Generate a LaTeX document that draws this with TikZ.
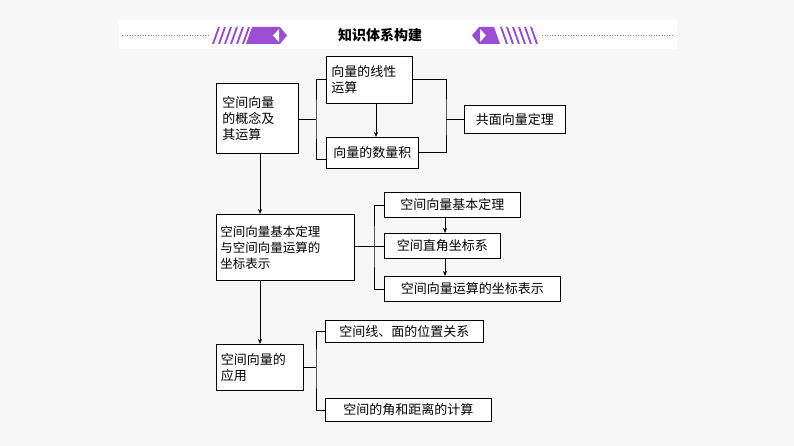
\documentclass[tikz,border=0pt]{standalone}
\usepackage{fontspec}
\setmainfont{Noto Sans CJK SC}
\usetikzlibrary{arrows.meta}
\begin{document}
\begin{tikzpicture}[x=1pt,y=-1pt,
  bx/.style={draw,line width=0.9pt,fill=white,align=left,inner sep=3pt,font=\fontsize{13}{16}\selectfont,anchor=north west},
  ln/.style={line width=0.8pt},
  ar/.style={line width=0.8pt,-{Stealth[length=5pt,width=4pt]}}]
\useasboundingbox (0,0) rectangle (794,446);
\fill[gray!6] (0,0) rectangle (794,446);
% header
\fill[white] (119,20) rectangle (677,49);
\draw[purple!60!blue!60,dotted,line width=0.6pt] (122,35) -- (208,35);
\draw[purple!60!blue!60,dotted,line width=0.6pt] (542,35) -- (674,35);
\definecolor{pv}{HTML}{9B4DD6}
\foreach \i in {0,...,5} \fill[pv] (212+\i*6,44) -- (218+\i*6,27) -- (220+\i*6,27) -- (214+\i*6,44) -- cycle;
\fill[pv] (246,44) -- (252,27) -- (280,27) -- (287,35.5) -- (280,44) -- cycle;
\fill[white] (273,35.5) -- (279,29) -- (279,42) -- cycle;
\foreach \i in {0,...,5} \fill[pv] (538-\i*6,44) -- (532-\i*6,27) -- (530-\i*6,27) -- (536-\i*6,44) -- cycle;
\fill[pv] (500,44) -- (494,27) -- (479,27) -- (472,35.5) -- (479,44) -- cycle;
\fill[white] (486,35.5) -- (480,29) -- (480,42) -- cycle;
\node[font=\bfseries\fontsize{14}{16}\selectfont] (hdr) at (380,35) {知识体系构建};
% boxes
\node[bx,minimum width=82,minimum height=70,text width=70] (A) at (216,83) {空间向量\\的概念及\\其运算};
\node[bx,minimum width=86,minimum height=47,text width=76] (B) at (326,56) {向量的线性\\运算};
\node[bx,minimum width=92,minimum height=31] (C) at (326,137) {向量的数量积};
\node[bx,minimum width=101,minimum height=28] (D) at (464,105) {共面向量定理};
\node[bx,minimum width=138,minimum height=66,text width=130,font=\fontsize{12.5}{16}\selectfont] (E) at (216,214) {空间向量基本定理\\与空间向量运算的\\坐标表示};
\node[bx,minimum width=136,minimum height=25,inner sep=2pt] (F) at (384,192) {空间向量基本定理};
\node[bx,minimum width=116,minimum height=25,inner sep=2pt] (G) at (384,233) {空间直角坐标系};
\node[bx,minimum width=176,minimum height=25,inner sep=2pt] (H) at (384,276) {空间向量运算的坐标表示};
\node[bx,minimum width=87,minimum height=46,text width=78] (I) at (216,344) {空间向量的\\应用};
\node[bx,minimum width=158,minimum height=22,inner sep=2pt] (J) at (325,320) {空间线、面的位置关系};
\node[bx,minimum width=166,minimum height=23,inner sep=2pt] (K) at (325,398) {空间的角和距离的计算};
% connectors
\coordinate (b1) at (316,119);
\draw[ln] (A.east |- b1) -- (b1);
\draw[ln] (B.west |- 0,79) -| (b1) |- (C.west |- 0,159);
\coordinate (b2) at (446,119);
\draw[ln] (B.east |- 0,79) -| (b2) |- (C.east |- 0,152);
\draw[ln] (b2) -- (D.west |- b2);
\draw[ar] (B.south -| 376,0) -- (C.north -| 376,0);
\draw[ar] (A.south -| 260,0) -- (E.north -| 260,0);
\draw[ar] (E.south -| 260,0) -- (I.north -| 260,0);
\coordinate (b3) at (374,246);
\draw[ln] (E.east |- b3) -- (b3);
\draw[ln] (F.west) -| (b3) |- (H.west);
\draw[ln] (b3) -- (G.west |- b3);
\draw[ar] (F.south -| 445,0) -- (G.north -| 445,0);
\draw[ar] (G.south -| 445,0) -- (H.north -| 445,0);
\coordinate (b4) at (316,367);
\draw[ln] (I.east |- b4) -- (b4);
\draw[ln] (J.west) -| (b4) |- (K.west);
\end{tikzpicture}
\end{document}
